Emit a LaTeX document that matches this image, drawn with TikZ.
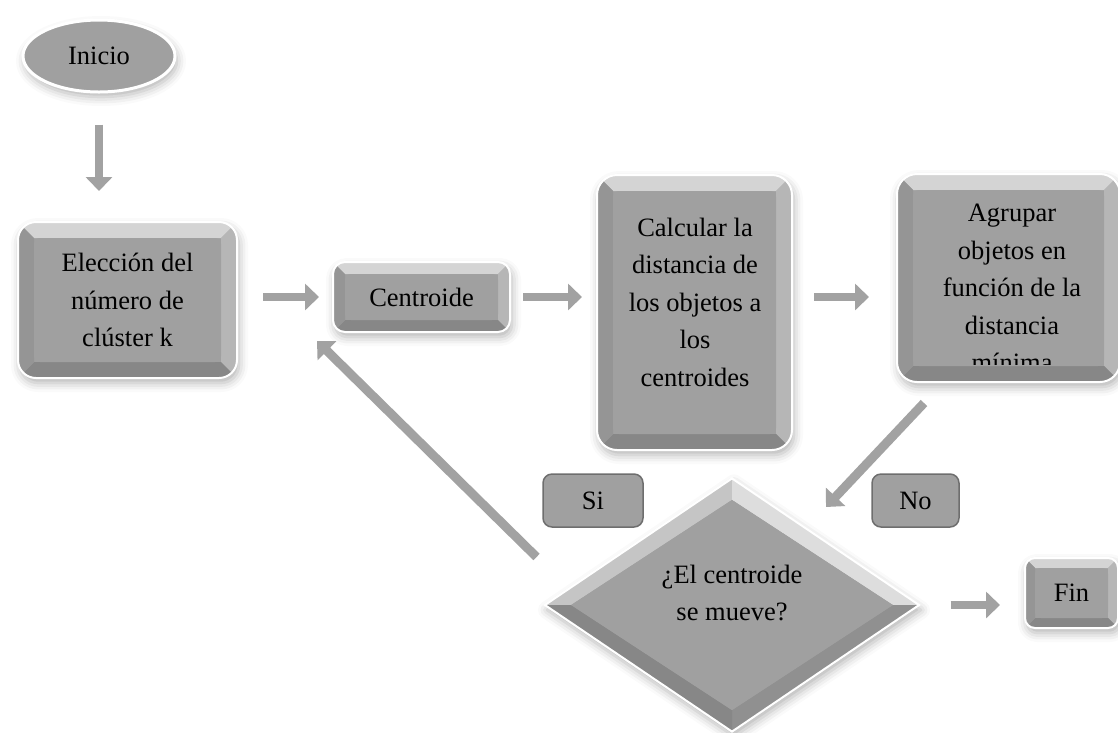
\documentclass[tikz,border=0pt]{standalone}
\usepackage{fontspec}
\setmainfont{Liberation Serif}
\usetikzlibrary{shapes.geometric,arrows.meta,calc,shadows.blur}

\definecolor{caraGris}{HTML}{A0A0A0}
\definecolor{biselClaro}{HTML}{D4D4D4}
\definecolor{biselDer}{HTML}{B6B6B6}
\definecolor{biselOscuro}{HTML}{878787}
\definecolor{biselIzq}{HTML}{959595}
\definecolor{bordeGris}{HTML}{6E6E6E}
\definecolor{flechaGris}{HTML}{A2A2A2}

\tikzset{
	bisel/.store in=\anchoBisel, bisel=16pt,
	texto/.style={align=center, font=\fontsize{26.5}{37.5}\selectfont, text=black},
	sombra/.style={blur shadow={shadow xshift=2pt, shadow yshift=-5pt, shadow blur radius=9pt, shadow opacity=30}},
	paso/.style={rectangle, rounded corners=18pt, fill=caraGris, draw=white, line width=2pt, inner sep=0pt, texto, sombra,
		path picture={
			\path (path picture bounding box.south west) coordinate (pSO)
				(path picture bounding box.north east) coordinate (pNE)
				(path picture bounding box.north west) coordinate (pNO)
				(path picture bounding box.south east) coordinate (pSE);
			\path ([shift={(\anchoBisel,\anchoBisel)}]pSO) coordinate (iSO)
				([shift={(-\anchoBisel,-\anchoBisel)}]pNE) coordinate (iNE)
				([shift={(\anchoBisel,-\anchoBisel)}]pNO) coordinate (iNO)
				([shift={(-\anchoBisel,\anchoBisel)}]pSE) coordinate (iSE);
			\fill[biselClaro, sharp corners] (pNO) -- (pNE) -- (iNE) -- (iNO) -- cycle;
			\fill[biselDer, sharp corners] (pNE) -- (pSE) -- (iSE) -- (iNE) -- cycle;
			\fill[biselOscuro, sharp corners] (pSE) -- (pSO) -- (iSO) -- (iSE) -- cycle;
			\fill[biselIzq, sharp corners] (pSO) -- (pNO) -- (iNO) -- (iSO) -- cycle;
			\fill[caraGris, rounded corners=6pt] (iSO) rectangle (iNE);
		}},
	pregunta/.style={diamond, fill=caraGris, draw=white, line width=2pt, inner sep=0pt, texto, sombra,
		path picture={
			\path (path picture bounding box.center) coordinate (dC)
				(path picture bounding box.north) coordinate (dN)
				(path picture bounding box.east) coordinate (dE)
				(path picture bounding box.south) coordinate (dS)
				(path picture bounding box.west) coordinate (dW);
			\path ($(dC)!0.83!(dN)$) coordinate (jN) ($(dC)!0.86!(dE)$) coordinate (jE)
				($(dC)!0.83!(dS)$) coordinate (jS) ($(dC)!0.86!(dW)$) coordinate (jW);
			\fill[fill=biselDer!80!white, sharp corners] (dW) -- (dN) -- (jN) -- (jW) -- cycle;
			\fill[fill=biselClaro!80!white, sharp corners] (dN) -- (dE) -- (jE) -- (jN) -- cycle;
			\fill[fill=caraGris!90!black, sharp corners] (dE) -- (dS) -- (jS) -- (jE) -- cycle;
			\fill[fill=biselOscuro, sharp corners] (dS) -- (dW) -- (jW) -- (jS) -- cycle;
			\fill[caraGris, sharp corners] (jN) -- (jE) -- (jS) -- (jW) -- cycle;
		}},
	inicio/.style={ellipse, fill=caraGris, draw=white, line width=3pt, inner sep=0pt, texto, sombra},
	etiqueta/.style={rectangle, rounded corners=9pt, fill=caraGris, draw=bordeGris, line width=1.5pt, inner sep=0pt, texto},
	flecha/.style={draw=flechaGris, line width=8pt, -{Triangle[width=26pt,length=14pt]}},
}

\begin{document}
\begin{tikzpicture}[x=1pt, y=-1pt]
	\useasboundingbox (0,0) rectangle (1118,732);

	\node[inicio, minimum width=152pt, minimum height=72pt] (inicio) at (99,56) {Inicio};
	\node[paso, minimum width=219pt, minimum height=156pt] (eleccion) at (127.5,300) {Elección del\\número de\\clúster k};
	\node[paso, bisel=12pt, rounded corners=12pt, minimum width=177pt, minimum height=70pt] (centroide) at (421.5,297) {Centroide};
	\node[paso, rounded corners=20pt, minimum width=195pt, minimum height=275pt] (calcular) at (694.5,312.5) {};
	\node[texto] (calculartxt) at (695,302) {Calcular la\\distancia de\\los objetos a\\los\\centroides};
	\node[paso, rounded corners=20pt, minimum width=223pt, minimum height=208pt] (agrupar) at (1008.5,278) {};
	\begin{scope}
		\clip[rounded corners=6pt] ([shift={(16pt,-16pt)}]agrupar.north west) rectangle ([shift={(-16pt,19pt)}]agrupar.south east);
		\node[texto] (agrupartxt) at (1012,288) {Agrupar\\objetos en\\función de la\\distancia\\mínima};
	\end{scope}
	\node[pregunta, minimum width=375pt, minimum height=254pt] (decision) at (732,605) {};
	\node[texto] (decisiontxt) at (732,593) {¿El centroide\\se mueve?};
	\node[etiqueta, minimum width=100pt, minimum height=53pt] (si) at (593,500.5) {Si};
	\node[etiqueta, minimum width=87pt, minimum height=53pt] (no) at (915.5,500.5) {No};
	\node[paso, bisel=10pt, rounded corners=10pt, minimum width=93pt, minimum height=70pt] (fin) at (1071.5,593) {Fin};

	\coordinate (puntaNo) at (826,507);

	\draw[flecha, shorten <=31pt, shorten >=30pt] (inicio.south) -- (inicio.south |- eleccion.north);
	\draw[flecha, shorten <=25pt, shorten >=13pt] (eleccion.east |- centroide.west) -- (centroide.west);
	\draw[flecha, shorten <=12pt, shorten >=14pt] (centroide.east) -- (centroide.east -| calcular.west);
	\draw[flecha, shorten <=21pt, shorten >=27pt] (calcular.east |- centroide.east) -- (agrupar.west |- centroide.east);
	\draw[flecha, line width=9pt] ([shift={(28pt,-20pt)}]agrupar.south west) -- (puntaNo);
	\draw[flecha, line width=9pt] ([shift={(-7pt,48pt)}]decision.west) -- ([shift={(-15pt,-8pt)}]centroide.south west);
	\draw[flecha, shorten <=30pt, shorten >=24pt] (decision.east) -- (decision.east -| fin.west);
\end{tikzpicture}
\end{document}
